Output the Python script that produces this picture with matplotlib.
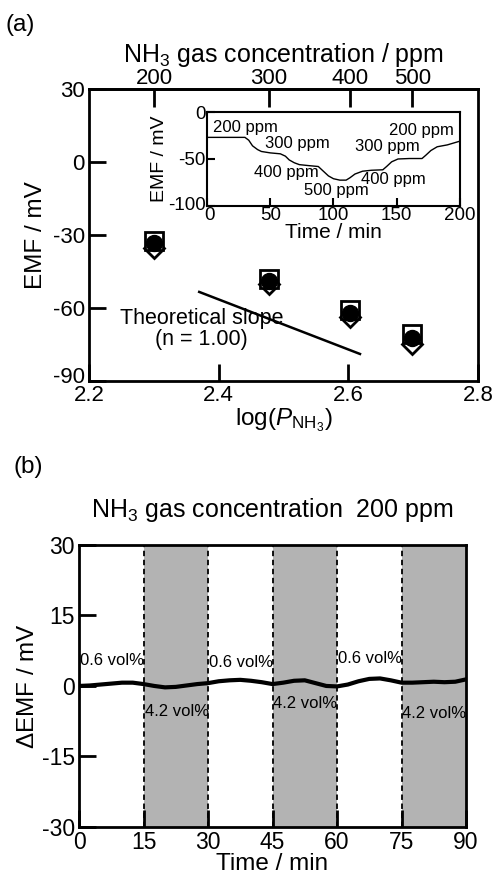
import numpy as np
import matplotlib
matplotlib.use("Agg")
import matplotlib.pyplot as plt
import matplotlib.transforms as mtrans

plt.rcParams["font.family"] = ["Liberation Sans", "DejaVu Sans"]
plt.rcParams["mathtext.fontset"] = "custom"
plt.rcParams["mathtext.rm"] = "Liberation Sans"
plt.rcParams["mathtext.it"] = "Liberation Sans:italic"
plt.rcParams["axes.unicode_minus"] = False

# (a) EMF vs NH3 concentration
ppm = [200, 300, 400, 500]
emf_square = [-32.5, -48.0, -61.0, -70.5]
emf_circle = [-33.3, -48.9, -62.0, -72.3]
emf_diamond = [-35.5, -50.0, -63.8, -75.0]
slope_x = [2.37, 2.618]
slope_y = [-53.4, -78.9]

# inset: EMF transient
inset_t = [0, 10, 20, 30, 33, 36, 40, 43, 50, 58, 62, 65, 69, 73, 80, 88, 92, 96, 100, 105, 110,
           113, 117, 123, 130, 139, 142, 146, 151, 160, 170, 173, 177, 182, 190, 200]
inset_emf = [-27, -27, -27, -27, -30, -36, -40, -42, -43.5, -44.5, -47, -51, -54, -56, -57, -58,
             -63, -68, -71, -72.5, -72.5, -70, -66, -63, -62, -61.5, -58, -53, -50, -49.5, -49.5,
             -46, -41, -37, -35, -31]
inset_labels = ["200 ppm", "300 ppm", "400 ppm", "500 ppm", "400 ppm", "300 ppm", "200 ppm"]
inset_lab_t = [4.5, 46, 37, 77, 122, 117, 144]
inset_lab_y = [-16, -34, -64, -84, -72, -37, -20]

# (b) stability with water vapour
t_b = [0, 2.5, 5, 7.5, 10, 12.5, 15, 17.5, 20, 22.5, 25, 27.5, 30, 32.5, 35, 37.5, 40, 42.5, 45,
       47.5, 50, 52.5, 55, 57.5, 60, 62.5, 65, 67.5, 70, 72.5, 75, 77.5, 80, 82.5, 85, 87.5, 90]
demf_b = [0.0, 0.1, 0.3, 0.5, 0.7, 0.7, 0.4, 0.0, -0.3, -0.2, 0.1, 0.4, 0.6, 1.0, 1.2, 1.3, 1.1,
          0.8, 0.4, 0.7, 1.1, 1.2, 0.6, 0.0, -0.1, 0.3, 1.0, 1.5, 1.6, 1.2, 0.7, 0.7, 0.8, 0.9,
          0.8, 0.9, 1.4]
shade_start = [15, 45, 75]
shade_end = [30, 60, 90]
dash_x = [15, 30, 45, 60, 75]
low_lab_t = [0.3, 30.3, 60.2]
low_lab_y = [5.5, 5.0, 5.8]
high_lab_t = [15.4, 45.2, 75.0]
high_lab_y = [-5.5, -3.8, -5.8]


def nudge(label, dx, dy):
    # shift a tick label by a few pixels
    label.set_transform(label.get_transform() + mtrans.ScaledTranslation(dx / 72, dy / 72, fig.dpi_scale_trans))


fig = plt.figure(figsize=(4.92, 8.75), dpi=100)

# ---- panel (a)
ax = fig.add_axes([0.1809, 0.5646, 0.7906, 0.3337])
x = np.log10(ppm)
ax.plot(x, emf_diamond, "D", ms=10, mfc="white", mec="black", mew=2, zorder=3)
ax.plot(x, emf_square, "s", ms=13, mfc="white", mec="black", mew=2, zorder=4)
ax.plot(x, emf_circle, "o", ms=11.5, color="black", zorder=5)
ax.plot(slope_x, slope_y, color="black", lw=1.8)
ax.text(2.374, -64.5, "Theoretical slope", ha="center", va="center", fontsize=15.5)
ax.text(2.374, -73, "(n = 1.00)", ha="center", va="center", fontsize=15.5)
ax.set_xlim(2.2, 2.8)
ax.set_ylim(-90, 30)
ax.set_xticks([2.2, 2.4, 2.6, 2.8])
ax.set_xticklabels(["2.2", "2.4", "2.6", "2.8"])
ax.set_yticks([-90, -60, -30, 0, 30])
ax.tick_params(direction="in", length=12, width=2, labelsize=16, pad=3)
for s in ax.spines.values():
    s.set_linewidth(2)
ax.set_xlabel(r"log($P_{\mathrm{NH_3}}$)", fontsize=17.5, labelpad=0)
ax.set_ylabel("EMF / mV", fontsize=17.5, labelpad=4)
nudge(ax.get_yticklabels()[0], 0, 4)

top = ax.secondary_xaxis("top", functions=(lambda v: 10 ** v, np.log10))
top.set_xticks(ppm)
top.set_xticklabels([str(p) for p in ppm])
top.tick_params(direction="in", length=13, width=2, labelsize=16, pad=0)
top.spines["top"].set_linewidth(2)
top.set_xlabel(r"NH$_3$ gas concentration / ppm", fontsize=18, labelpad=4)

fig.text(0.012, 0.972, "(a)", fontsize=17.5, ha="left", va="center")

# inset
ins = fig.add_axes([0.4207, 0.7646, 0.5142, 0.1074])
ins.plot(inset_t, inset_emf, color="black", lw=1)
for lab, tt, yy in zip(inset_labels, inset_lab_t, inset_lab_y):
    ins.text(tt, yy, lab, fontsize=12, ha="left", va="center")
ins.set_xlim(0, 200)
ins.set_ylim(-100, 0)
ins.set_xticks([0, 50, 100, 150, 200])
ins.set_yticks([-100, -50, 0])
ins.tick_params(direction="in", length=6, width=1.5, labelsize=13.5, pad=1)
for s in ins.spines.values():
    s.set_linewidth(1.5)
ins.set_xlabel("Time / min", fontsize=15, labelpad=-1)
ins.set_ylabel("EMF / mV", fontsize=14, labelpad=0)
nudge(ins.get_yticklabels()[0], 0, 2)
nudge(ins.get_xticklabels()[0], 2, 0)

# ---- panel (b)
bx = fig.add_axes([0.1606, 0.0549, 0.7866, 0.3223])
for a, b in zip(shade_start, shade_end):
    bx.axvspan(a, b, color="#b3b3b3", lw=0, zorder=0)
for xv in dash_x:
    bx.axvline(xv, color="black", ls=(0, (3, 2)), lw=1.3, zorder=1)
bx.plot(t_b, demf_b, color="black", lw=3, zorder=3)
for tt, yy in zip(low_lab_t, low_lab_y):
    bx.text(tt, yy, "0.6 vol%", fontsize=12, ha="left", va="center", zorder=4)
for tt, yy in zip(high_lab_t, high_lab_y):
    bx.text(tt, yy, "4.2 vol%", fontsize=12, ha="left", va="center", zorder=4)
bx.set_xlim(0, 90)
bx.set_ylim(-30, 30)
bx.set_xticks([0, 15, 30, 45, 60, 75, 90])
bx.set_yticks([-30, -15, 0, 15, 30])
bx.tick_params(direction="in", length=12, width=2, labelsize=16.5, pad=3)
for s in bx.spines.values():
    s.set_linewidth(2)
bx.set_xlabel("Time / min", fontsize=17.5, labelpad=-1)
bx.set_ylabel(r"$\Delta$EMF / mV", fontsize=17.5, labelpad=2)
bx.set_title(r"NH$_3$ gas concentration  200 ppm", fontsize=18, pad=20)

fig.text(0.028, 0.466, "(b)", fontsize=17.5, ha="left", va="center")

fig.savefig("out.png", dpi=100)
